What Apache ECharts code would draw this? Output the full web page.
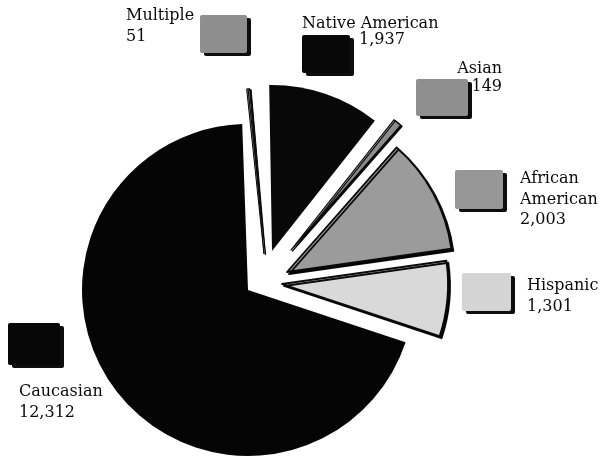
<!DOCTYPE html>
<html>
<head>
<meta charset="utf-8">
<script src="https://cdn.jsdelivr.net/npm/echarts@6/dist/echarts.min.js"></script>
<style>
html,body{margin:0;padding:0;background:#fff;}
#chart{width:613px;height:465px;}
</style>
</head>
<body>
<div id="chart"></div>
<script>
// ---- data ----
var categories = ['Multiple', 'Native American', 'Asian', 'African American', 'Hispanic', 'Caucasian'];
var values = [51, 1937, 149, 2003, 1301, 12312];

// ---- styling / layout (not data) ----
var sliceColors = ['#8a8a8a', '#080808', '#8c8c8c', '#9b9b9b', '#d9d9d9', '#050505'];
var swatchColors = ['#8e8e8e', '#080808', '#8f8f8f', '#969696', '#d4d4d4', '#060606'];
var sliceCenters = [[264, 254], [272, 251], [291, 250], [287, 272], [282, 284], [248, 290]];
var sliceStart = [96, 92, 92, 92, 92, 92];
var sliceBorder = [1, 0, 1.2, 1.8, 1.8, 0];
var swatchRects = [[200, 15, 47, 38], [302, 35, 48, 38], [416, 79, 52, 37], [455, 170, 48, 39], [462, 273, 49, 38], [8, 323, 52, 42]];
var textLayout = [
  {x: 126, y: 20, align: 'left', lines: 'split'},
  {x: 302, y: 28, align: 'left', lines: 'nameOnly', vx: 359, vy: 48},
  {x: 502, y: 74, align: 'right', lines: 'split', lh: 18},
  {x: 520, y: 183, align: 'left', lines: 'wrap'},
  {x: 527, y: 290, align: 'left', lines: 'split'},
  {x: 19, y: 396, align: 'left', lines: 'split'}
];

var chart = echarts.init(document.getElementById('chart'), null, {renderer: 'canvas'});
var FONT = '16px "DejaVu Serif", serif';

var series = categories.map(function (c, i) {
  return {
    type: 'pie',
    center: sliceCenters[i],
    radius: 166,
    startAngle: sliceStart[i],
    clockwise: true,
    silent: true,
    animation: false,
    label: {show: false},
    labelLine: {show: false},
    emphasis: {disabled: true},
    z: i === 5 ? 1 : 2,
    data: categories.map(function (n, j) {
      var vis = (j === i);
      var isBlack = (j === 1 || j === 5);
      return {
        name: n,
        value: values[j],
        itemStyle: vis ? {
          color: sliceColors[j],
          borderColor: '#0a0a0a',
          borderWidth: sliceBorder[j],
          shadowColor: isBlack ? 'rgba(0,0,0,0)' : 'rgba(0,0,0,0.95)',
          shadowBlur: 0,
          shadowOffsetX: (j === 0 || j === 2) ? 1.5 : 2,
          shadowOffsetY: (j === 0 || j === 2) ? 1 : 2
        } : {
          color: 'rgba(0,0,0,0)',
          borderWidth: 0,
          shadowColor: 'rgba(0,0,0,0)'
        }
      };
    })
  };
});

var graphics = [];
categories.forEach(function (n, i) {
  var r = swatchRects[i];
  graphics.push({
    type: 'rect',
    shape: {x: r[0], y: r[1], width: r[2], height: r[3], r: 2},
    style: {fill: swatchColors[i],
            shadowColor: '#0d0d0d', shadowBlur: 0, shadowOffsetX: 4, shadowOffsetY: 3},
    silent: true
  });
  var L = textLayout[i];
  var valStr = values[i].toLocaleString('en-US');
  var lh = L.lh || 20.5;
  var txt;
  if (L.lines === 'nameOnly') {
    txt = n;
    graphics.push({
      type: 'text', x: L.vx, y: L.vy, silent: true,
      style: {text: valStr, font: FONT, fill: '#0a0a0a', textAlign: 'left', textVerticalAlign: 'bottom', verticalAlign: 'bottom'}
    });
  } else if (L.lines === 'wrap') {
    txt = n.replace(' ', '\n') + '\n' + valStr;
  } else {
    txt = n + '\n' + valStr;
  }
  graphics.push({
    type: 'text', x: L.x, y: L.y - 14, silent: true,
    style: {text: txt, font: FONT, fill: '#0a0a0a', lineHeight: lh,
            textAlign: L.align, align: L.align, textVerticalAlign: 'top', verticalAlign: 'top'}
  });
});

chart.setOption({
  backgroundColor: '#ffffff',
  animation: false,
  series: series,
  graphic: graphics
});
</script>
</body>
</html>
